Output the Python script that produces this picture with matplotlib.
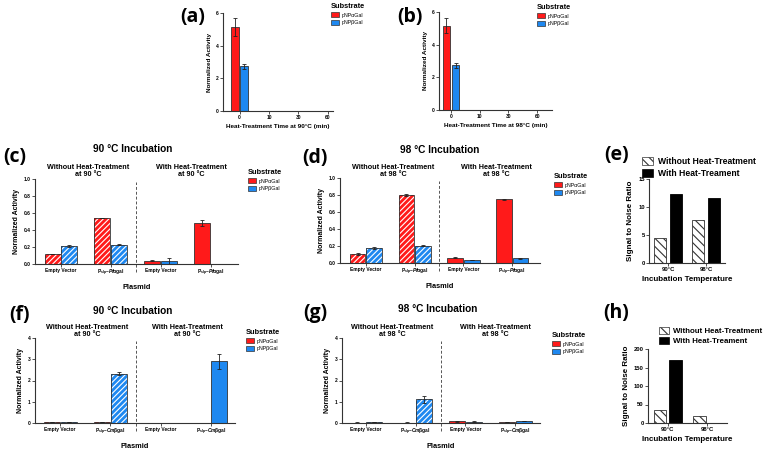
import matplotlib
matplotlib.use('Agg')
import numpy as np
import matplotlib.pyplot as plt
from matplotlib.patches import Patch

plt.rcParams['font.family'] = ['Liberation Sans', 'DejaVu Sans']
plt.rcParams['font.weight'] = 'bold'
plt.rcParams['axes.labelweight'] = 'bold'
plt.rcParams['hatch.linewidth'] = 0.8
plt.rcParams['mathtext.fontset'] = 'custom'
plt.rcParams['mathtext.rm'] = 'Liberation Sans:bold'
plt.rcParams['mathtext.it'] = 'Liberation Sans:italic:bold'
plt.rcParams['mathtext.default'] = 'rm'

# ---- data ----
times = ['0', '10', '30', '60']
a_alpha = [5.14, 0.0, 0.0, 0.0]
a_alpha_err = [0.53, 0, 0, 0]
a_beta = [2.74, 0.0, 0.0, 0.0]
a_beta_err = [0.15, 0, 0, 0]
b_alpha = [5.16, 0.0, 0.0, 0.01]
b_alpha_err = [0.46, 0, 0, 0]
b_beta = [2.73, 0.0, 0.0, 0.02]
b_beta_err = [0.17, 0, 0, 0]

pf_labels = ['Empty Vector', r'P$_{slp}$–$\mathit{Pf}$αgal'] * 2
cm_labels = ['Empty Vector', r'P$_{slp}$–$\mathit{Cm}$βgal'] * 2

c_alpha = [0.117, 0.543, 0.04, 0.477]
c_alpha_err = [0.005, 0.003, 0.003, 0.035]
c_beta = [0.213, 0.228, 0.03, 0.003]
c_beta_err = [0.008, 0.008, 0.04, 0.0]

d_alpha = [0.105, 0.80, 0.062, 0.75]
d_alpha_err = [0.012, 0.01, 0.005, 0.008]
d_beta = [0.175, 0.202, 0.035, 0.054]
d_beta_err = [0.012, 0.006, 0.004, 0.007]

f_alpha = [0.03, 0.03, 0.01, 0.01]
f_alpha_err = [0.005, 0.005, 0.0, 0.0]
f_beta = [0.05, 2.32, 0.01, 2.9]
f_beta_err = [0.01, 0.07, 0.0, 0.34]

g_alpha = [0.02, 0.02, 0.08, 0.06]
g_alpha_err = [0.005, 0.005, 0.01, 0.01]
g_beta = [0.04, 1.11, 0.07, 0.10]
g_beta_err = [0.01, 0.16, 0.01, 0.01]

temps = ['90°C', '98°C']
e_without = [4.46, 7.6]
e_with = [12.4, 11.6]
h_without = [36, 20]
h_with = [169, 1]

RED = '#FF1A1A'
BLUE = '#1E88F0'
EDGE = '#333333'

W, H = 767, 450
fig = plt.figure(figsize=(W / 100, H / 100), dpi=100)


def axes_px(l, t, r, b):
    return fig.add_axes([l / W, 1 - b / H, (r - l) / W, (b - t) / H])


def style(ax, fs=3.5):
    for s in ['top', 'right']:
        ax.spines[s].set_visible(False)
    for s in ['left', 'bottom']:
        ax.spines[s].set_linewidth(0.8)
        ax.spines[s].set_color(EDGE)
    ax.tick_params(length=2, width=0.6, labelsize=fs, pad=1, color=EDGE)


def bars(ax, x, vals, errs, color, w, hatched=False):
    if hatched:
        ax.bar(x, vals, w, color=color, edgecolor='white', hatch='//////', lw=0)
        ax.bar(x, vals, w, fill=False, edgecolor=EDGE, lw=0.6)
    else:
        ax.bar(x, vals, w, color=color, edgecolor=EDGE, lw=0.6)
    x = np.asarray(x)
    v = np.asarray(vals)
    e = np.asarray(errs)
    m = e > 0
    ax.errorbar(x[m], v[m], yerr=e[m], fmt='none', ecolor='#222222',
                elinewidth=0.6, capsize=1.5, capthick=0.6)


def substrate_legend(ax, x, y):
    handles = [Patch(facecolor=RED, edgecolor=EDGE, lw=0.5, label='pNPαGal'),
               Patch(facecolor=BLUE, edgecolor=EDGE, lw=0.5, label='pNPβGal')]
    ax.legend(handles=handles, title='Substrate', loc='upper left',
              bbox_to_anchor=(x / W, 1 - y / H), bbox_transform=fig.transFigure,
              frameon=False, prop={'size': 3.8, 'weight': 'normal'},
              title_fontproperties={'size': 5.3, 'weight': 'bold'},
              handlelength=1.6, handleheight=1.0, handletextpad=0.4,
              labelspacing=0.45, borderpad=0, borderaxespad=0, alignment='left')


def sn_legend(ax, x, y, size, spacing):
    handles = [Patch(facecolor='white', edgecolor=EDGE, hatch='\\\\\\\\', lw=0.5,
                     label='Without Heat-Treatment'),
               Patch(facecolor='black', edgecolor='black', lw=0.5,
                     label='With Heat-Treament')]
    leg = ax.legend(handles=handles, loc='upper left',
                    bbox_to_anchor=(x / W, 1 - y / H), bbox_transform=fig.transFigure,
                    frameon=False, prop={'size': size, 'weight': 'bold'},
                    handlelength=1.3, handleheight=0.9, handletextpad=0.5,
                    labelspacing=spacing, borderpad=0, borderaxespad=0)
    leg.set_zorder(1)


def letter(x, y, s):
    fig.text(x / W, 1 - y / H, s, fontsize=14, fontweight='bold',
             family=['Open Sans', 'DejaVu Sans'], ha='center', va='center')


def ftext(x, y, s, size, **kw):
    fig.text(x / W, 1 - y / H, s, fontsize=size, fontweight='bold',
             ha='center', va='center', **kw)


# ---- (a) and (b): time course ----
for box, xl, alpha, aerr, beta, berr, lab, lpos in [
        ((223, 13, 333, 111), (-0.56, 3.17), a_alpha, a_alpha_err, a_beta, a_beta_err,
         'Heat-Treatment Time at 90°C (min)', (331, 3)),
        ((439, 12, 552, 110), (-0.42, 3.52), b_alpha, b_alpha_err, b_beta, b_beta_err,
         'Heat-Treatment Time at 98°C (min)', (537, 4))]:
    ax = axes_px(*box)
    x = np.arange(len(times))
    bars(ax, x - 0.16, alpha, aerr, RED, 0.26)
    bars(ax, x + 0.16, beta, berr, BLUE, 0.26)
    ax.set_xlim(*xl)
    ax.set_ylim(0, 6)
    ax.set_yticks([0, 2, 4, 6])
    ax.set_xticks(x)
    ax.set_xticklabels(times)
    style(ax)
    ax.set_ylabel('Normalized Activity', fontsize=4.6, labelpad=3)
    ax.set_xlabel(lab, fontsize=4.6, labelpad=3)
    substrate_legend(ax, *lpos)

letter(193, 17, '(a)')
letter(410, 17, '(b)')


# ---- (c), (d), (f), (g): plasmid comparisons ----
def plasmid_panel(box, xl, ymax, yticks, alpha, aerr, beta, berr, labels):
    ax = axes_px(*box)
    x = np.arange(4)
    w = 0.32
    for i in range(4):
        hatched = i < 2
        bars(ax, [x[i] - 0.17], [alpha[i]], [aerr[i]], RED, w, hatched)
        bars(ax, [x[i] + 0.17], [beta[i]], [berr[i]], BLUE, w, hatched)
    ax.set_xlim(*xl)
    ax.set_ylim(0, ymax)
    ax.set_yticks(yticks)
    ax.set_xticks(x)
    ax.set_xticklabels(labels)
    style(ax)
    ax.axvline(1.5, ymin=-0.09, ymax=0.96, clip_on=False, color='#555555',
               lw=0.7, ls=(0, (3, 2)))
    ax.set_ylabel('Normalized Activity', fontsize=5, labelpad=3)
    ax.set_xlabel('Plasmid', fontsize=5.3, labelpad=4)
    return ax


ax_c = plasmid_panel((35, 179, 238, 264), (-0.52, 3.54), 1.0, np.arange(0, 1.01, 0.2),
                     c_alpha, c_alpha_err, c_beta, c_beta_err, pf_labels)
ax_c.set_yticklabels(['0.0', '0.2', '0.4', '0.6', '0.8', '1.0'])
substrate_legend(ax_c, 248, 169)
letter(15, 157, '(c)')
ftext(133, 149, '90 °C Incubation', 7.3)
ftext(88, 171, 'Without Heat-Treatment\nat 90 °C', 5.2, linespacing=1.05)
ftext(191, 171, 'With Heat-Treatment\nat 90 °C', 5.2, linespacing=1.05)

ax_d = plasmid_panel((340, 178, 540, 263), (-0.53, 3.57), 1.0, np.arange(0, 1.01, 0.2),
                     d_alpha, d_alpha_err, d_beta, d_beta_err, pf_labels)
ax_d.set_yticklabels(['0.0', '0.2', '0.4', '0.6', '0.8', '1.0'])
substrate_legend(ax_d, 554, 173)
letter(315, 158, '(d)')
ftext(440, 150, '98 °C Incubation', 7.3)
ftext(393, 171, 'Without Heat-Treatment\nat 98 °C', 5.2, linespacing=1.05)
ftext(496, 171, 'With Heat-Treatment\nat 98 °C', 5.2, linespacing=1.05)

ax_f = plasmid_panel((35, 338, 235, 423), (-0.5, 3.48), 4, [0, 1, 2, 3, 4],
                     f_alpha, f_alpha_err, f_beta, f_beta_err, cm_labels)
substrate_legend(ax_f, 246, 329)
letter(19, 315, '(f)')
ftext(133, 311, '90 °C Incubation', 7.3)
ftext(87, 331, 'Without Heat-Treatment\nat 90 °C', 5.2, linespacing=1.05)
ftext(187, 331, 'With Heat-Treatment\nat 90 °C', 5.2, linespacing=1.05)

ax_g = plasmid_panel((342, 338, 540, 423), (-0.48, 3.5), 4, [0, 1, 2, 3, 4],
                     g_alpha, g_alpha_err, g_beta, g_beta_err, cm_labels)
substrate_legend(ax_g, 552, 332)
letter(315, 313, '(g)')
ftext(438, 309, '98 °C Incubation', 7.3)
ftext(392, 331, 'Without Heat-Treatment\nat 98 °C', 5.2, linespacing=1.05)
ftext(495, 331, 'With Heat-Treatment\nat 98 °C', 5.2, linespacing=1.05)


# ---- (e), (h): signal to noise ----
def sn_panel(box, ymax, yticks, without, with_):
    ax = axes_px(*box)
    x = np.arange(len(temps))
    ax.bar(x - 0.2, without, 0.32, color='white', edgecolor=EDGE, hatch='\\\\\\\\', lw=0.6)
    ax.bar(x + 0.2, with_, 0.32, color='black', edgecolor='black', lw=0.6)
    ax.set_xlim(-0.5, 1.5)
    ax.set_ylim(0, ymax)
    ax.set_yticks(yticks)
    ax.set_xticks(x)
    ax.set_xticklabels(temps)
    style(ax, fs=4.2)
    ax.set_ylabel('Signal to Noise Ratio', fontsize=5.8, labelpad=3)
    ax.set_xlabel('Incubation Temperature', fontsize=5.8, labelpad=3)
    return ax


ax_e = sn_panel((649, 179, 725, 263), 15, [0, 5, 10, 15], e_without, e_with)
sn_legend(ax_e, 642, 157, 6.2, 0.35)
letter(617, 155, '(e)')

ax_h = sn_panel((648, 349, 727, 423), 200, [0, 50, 100, 150, 200], h_without, h_with)
sn_legend(ax_h, 659, 327, 5.7, 0.3)
letter(616, 313, '(h)')

fig.savefig('out.png', dpi=100)
